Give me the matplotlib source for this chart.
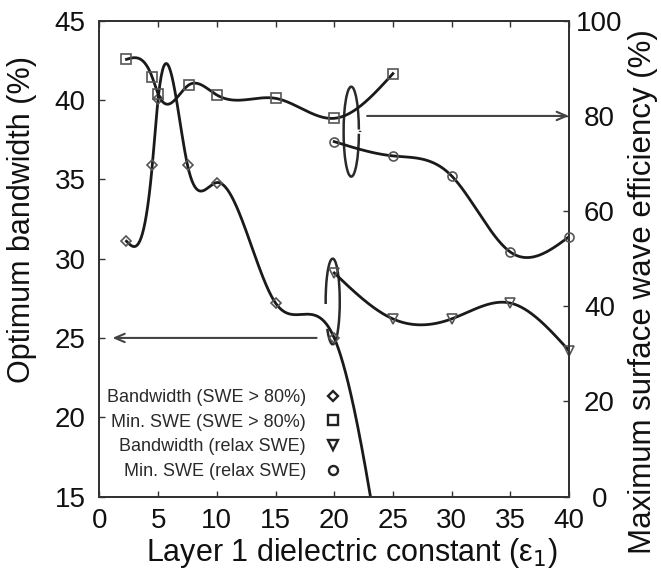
import numpy as np
import matplotlib
matplotlib.use("Agg")
import matplotlib.pyplot as plt
from matplotlib.patches import Arc
from matplotlib.lines import Line2D

plt.rcParams['font.family'] = ['Liberation Sans', 'DejaVu Sans']

# Bandwidth with SWE > 80 % (left axis, %)
bw_hi_x = [2.3, 4.5, 5.0, 7.5, 10.0, 15.0, 20.0, 25.0]
bw_hi_y = [31.1, 35.9, 40.1, 35.9, 34.8, 27.2, 25.0, 6.0]
# Min. SWE with SWE > 80 % (right axis, %)
swe_hi_x = [2.3, 4.5, 5.0, 7.6, 10.0, 15.0, 20.0, 25.0]
swe_hi_y = [91.9, 88.1, 84.6, 86.5, 84.4, 83.7, 79.5, 88.9]
# Bandwidth with relaxed SWE (left axis)
bw_rx_x = [20, 25, 30, 35, 40]
bw_rx_y = [29.1, 26.2, 26.2, 27.2, 24.2]
# Min. SWE with relaxed SWE (right axis)
swe_rx_x = [20, 25, 30, 35, 40]
swe_rx_y = [74.6, 71.6, 67.4, 51.4, 54.6]

labels = ["Bandwidth (SWE > 80%)", "Min. SWE (SWE > 80%)",
          "Bandwidth (relax SWE)", "Min. SWE (relax SWE)"]


def csplines(x, y, n=400):
    # natural cubic spline through the points (like gnuplot "smooth csplines")
    x = np.asarray(x, float)
    y = np.asarray(y, float)
    k = len(x)
    h = np.diff(x)
    A = np.zeros((k, k))
    b = np.zeros(k)
    A[0, 0] = A[-1, -1] = 1
    for i in range(1, k - 1):
        A[i, i - 1] = h[i - 1]
        A[i, i] = 2 * (h[i - 1] + h[i])
        A[i, i + 1] = h[i]
        b[i] = 6 * ((y[i + 1] - y[i]) / h[i] - (y[i] - y[i - 1]) / h[i - 1])
    M = np.linalg.solve(A, b)
    xs = np.linspace(x[0], x[-1], n)
    j = np.clip(np.searchsorted(x, xs) - 1, 0, k - 2)
    hh = x[j + 1] - x[j]
    t0 = x[j + 1] - xs
    t1 = xs - x[j]
    ys = (M[j] * t0 ** 3 + M[j + 1] * t1 ** 3) / (6 * hh) \
        + (y[j] / hh - M[j] * hh / 6) * t0 + (y[j + 1] / hh - M[j + 1] * hh / 6) * t1
    return xs, ys


line_c = '#1a1a1a'
mark_c = '#555555'
frame_c = '#333333'

fig = plt.figure(figsize=(6.61, 5.78), dpi=100)
ax = fig.add_axes([0.1505, 0.141, 0.7103, 0.823])
ax2 = ax.twinx()

mk = dict(ls='none', mfc='none', mec=mark_c, mew=1.2, clip_on=False, zorder=4)

xs, ys = csplines(bw_hi_x, bw_hi_y)
ax.plot(xs, ys, color=line_c, lw=2)
ax.plot(bw_hi_x[:-1], bw_hi_y[:-1], marker='D', ms=5, **mk)

xs, ys = csplines(bw_rx_x, bw_rx_y)
ax.plot(xs, ys, color=line_c, lw=2)
ax.plot(bw_rx_x, bw_rx_y, marker='v', ms=7, **mk)

xs, ys = csplines(swe_hi_x, swe_hi_y)
ax2.plot(xs, ys, color=line_c, lw=2)
ax2.plot(swe_hi_x, swe_hi_y, marker='s', ms=7, **mk)

xs, ys = csplines(swe_rx_x, swe_rx_y)
ax2.plot(xs, ys, color=line_c, lw=2)
ax2.plot(swe_rx_x, swe_rx_y, marker='o', ms=6.5, **mk)

ax.set_xlim(0, 40)
ax.set_ylim(15, 45)
ax2.set_ylim(0, 100)
ax.set_xticks(range(0, 41, 5))
ax.set_yticks(range(15, 46, 5))
ax2.set_yticks(range(0, 101, 20))

ax.tick_params(axis='x', direction='in', length=4, width=1, colors=frame_c,
               labelcolor='#111', labelsize=20, pad=8, top=True)
ax.tick_params(axis='y', direction='in', length=4, width=1, colors=frame_c,
               labelcolor='#111', labelsize=20, pad=10)
ax2.tick_params(axis='y', direction='in', length=4, width=1, colors=frame_c,
                labelcolor='#111', labelsize=20, pad=22)
for t in ax2.get_yticklabels():
    t.set_ha('center')

for a in (ax, ax2):
    for s in a.spines.values():
        s.set_color(frame_c)
        s.set_linewidth(1.4)

# annotations: ellipses and arrows
ac = '#2a2a2a'
ax2.add_patch(Arc((21.45, 76.7), 1.3, 18.9, theta1=34, theta2=326, color=ac, lw=1.8))
ax2.add_patch(Arc((21.55, 76.7), 1.3, 18.9, theta1=-7, theta2=15, color=ac, lw=1.8))
ax2.annotate('', xy=(40, 80), xytext=(22.8, 80),
             arrowprops=dict(arrowstyle='->,head_length=0.7,head_width=0.3',
                             lw=1.5, color='#444', shrinkA=0, shrinkB=0))
ax.add_patch(Arc((19.87, 27.3), 1.2, 5.4, theta1=-105, theta2=195, color=ac, lw=1.8))
ax.annotate('', xy=(1.1, 25), xytext=(18.5, 25),
            arrowprops=dict(arrowstyle='->,head_length=0.7,head_width=0.3',
                            lw=1.5, color='#444', shrinkA=0, shrinkB=0))

# legend: text first, marker after
lk = dict(ls='none', mfc='none', mec='#222', mew=1.7)
handles = [Line2D([], [], marker='D', ms=5.5, **lk),
           Line2D([], [], marker='s', ms=7, **lk),
           Line2D([], [], marker='v', ms=7.5, **lk),
           Line2D([], [], marker='o', ms=6.5, **lk)]
leg = ax.legend(handles, labels, markerfirst=False, loc='lower right',
                bbox_to_anchor=(0.513, 0.035), frameon=False, fontsize=13,
                handlelength=0.8, handletextpad=1.1, labelspacing=0.42,
                borderpad=0, borderaxespad=0)
for t in leg.get_texts():
    t.set_color('#2a2a2a')

fig.text(0.0333, 0.62, 'Optimum bandwidth (%)', rotation=90, ha='center',
         va='center', fontsize=22, color='#111')
fig.text(0.9728, 0.4948, 'Maximum surface wave efficiency (%)', rotation=90,
         ha='center', va='center', fontsize=22.5, color='#111')
fig.text(0.5325, 0.0433, 'Layer 1 dielectric constant (ε$_1$)', ha='center',
         va='center', fontsize=22, color='#111')

fig.savefig('out.png', dpi=100)
